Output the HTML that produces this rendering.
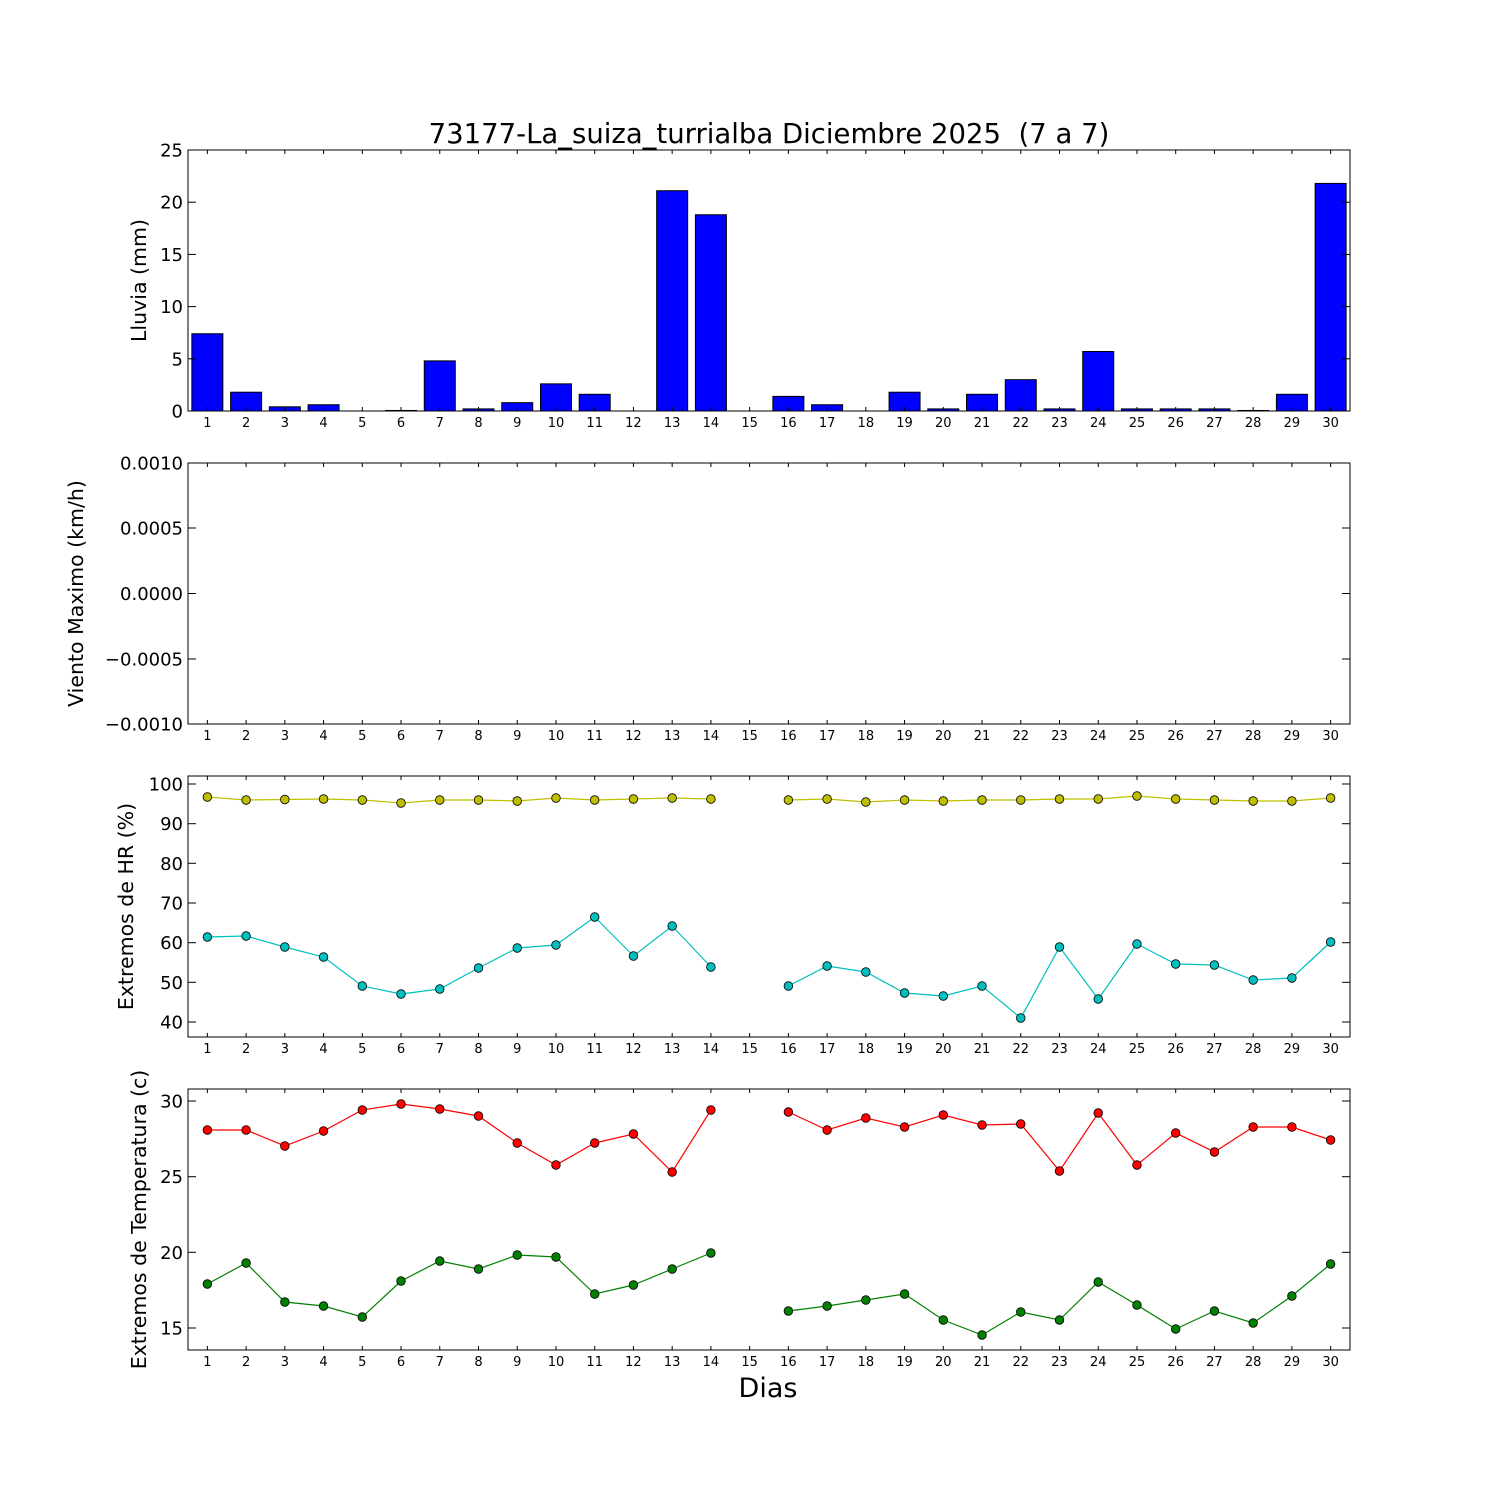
<!DOCTYPE html>
<html><head><meta charset="utf-8"><style>
html,body{margin:0;padding:0;background:#fff}
svg{display:block}
text{font-family:"DejaVu Sans","Liberation Sans",sans-serif;fill:#000}
</style></head><body>
<svg id="s" width="1500" height="1500" xmlns="http://www.w3.org/2000/svg"></svg>
<script>
const s=document.getElementById('s');let h='';
const L=188,R=1350;
const X=d=>L+(d-0.5)*(R-L)/30;
const panels=[[150,411],[463,724],[776,1037],[1089,1350]];
const rain=[7.4,1.8,0.4,0.6,0,0.05,4.8,0.2,0.8,2.6,1.6,0,21.1,18.8,0,1.4,0.6,0,1.8,0.2,1.6,3.0,0.2,5.7,0.2,0.2,0.2,0.05,1.6,21.8];
rain.forEach((v,i)=>{const d=i+1,w=31,x=X(d)-15.5,y=411-v*10.44;
 if(v>0)h+=`<rect x="${x}" y="${y}" width="${w}" height="${411-y}" fill="#0000ff" stroke="#000" stroke-width="1"/>`;});
function series(ys,color){let segs=[[]];ys.forEach((y,i)=>{const d=i+1;if(y==null){segs.push([]);return;}segs[segs.length-1].push([X(d),y]);});
 segs.forEach(sg=>{if(sg.length>1)h+=`<polyline points="${sg.map(p=>p.join(',')).join(' ')}" fill="none" stroke="${color}" stroke-width="1.2"/>`;
  sg.forEach(p=>h+=`<circle cx="${p[0]}" cy="${p[1]}" r="4.3" fill="${color}" stroke="#000" stroke-width="0.8"/>`);});}
const n=null;
series([797,800,799.5,799,800,803,800,800,801,798,800,799,798,799,n,800,799,802,800,801,800,800,799,799,796,799,800,801,801,798],'#bfbf00');
series([937,936,947,957,986,994,989,968,948,945,917,956,926,967,n,986,966,972,993,996,986,1018,947,999,944,964,965,980,978,942],'#00bfbf');
series([1130,1130,1146,1131,1110,1104,1109,1116,1143,1165,1143,1134,1172,1110,n,1112,1130,1118,1127,1115,1125,1124,1171,1113,1165,1133,1152,1127,1127,1140],'#ff0000');
series([1284,1263,1302,1306,1317,1281,1261,1269,1255,1257,1294,1285,1269,1253,n,1311,1306,1300,1294,1320,1335,1312,1320,1282,1305,1329,1311,1323,1296,1264],'#008000');
const yt=[
 [[0,411],[5,358.8],[10,306.6],[15,254.4],[20,202.2],[25,150]],
 [['\u22120.0010',724],['\u22120.0005',659],['0.0000',593.5],['0.0005',528],['0.0010',463]],
 [[40,1022],[50,982.3],[60,942.7],[70,903],[80,863.3],[90,823.7],[100,784]],
 [[15,1328],[20,1252.3],[25,1176.7],[30,1101]]];
const yl=['Lluvia (mm)','Viento Maximo (km/h)','Extremos de HR (%)','Extremos de Temperatura (c)'];
const ylx=[146,83,133,146];
panels.forEach(([t,b],k)=>{
 h+=`<rect x="${L}" y="${t}" width="${R-L}" height="${b-t}" fill="none" stroke="#000" stroke-width="1"/>`;
 for(let d=1;d<=30;d++){const x=X(d);h+=`<line x1="${x}" y1="${b}" x2="${x}" y2="${b-4}" stroke="#000"/><line x1="${x}" y1="${t}" x2="${x}" y2="${t+4}" stroke="#000"/>`;
  h+=`<text x="${x}" y="${b+16}" font-size="13" text-anchor="middle">${d}</text>`;}
 yt[k].forEach(([lab,y])=>{h+=`<line x1="${L}" y1="${y}" x2="${L+8}" y2="${y}" stroke="#000"/><line x1="${R}" y1="${y}" x2="${R-8}" y2="${y}" stroke="#000"/>`;
  h+=`<text x="${L-5}" y="${y+6.5}" font-size="18" text-anchor="end">${lab}</text>`;});
 const cy=(t+b)/2;h+=`<text x="${ylx[k]}" y="${cy}" font-size="20.5" text-anchor="middle" transform="rotate(-90 ${ylx[k]} ${cy})">${yl[k]}</text>`;
});
h+=`<text x="769" y="143" font-size="27.5" text-anchor="middle" xml:space="preserve" style="white-space:pre">73177-La_suiza_turrialba Diciembre 2025  (7 a 7)</text>`;
h+=`<text x="768" y="1397" font-size="27" text-anchor="middle">Dias</text>`;
s.innerHTML=h;
</script>
</body></html>
